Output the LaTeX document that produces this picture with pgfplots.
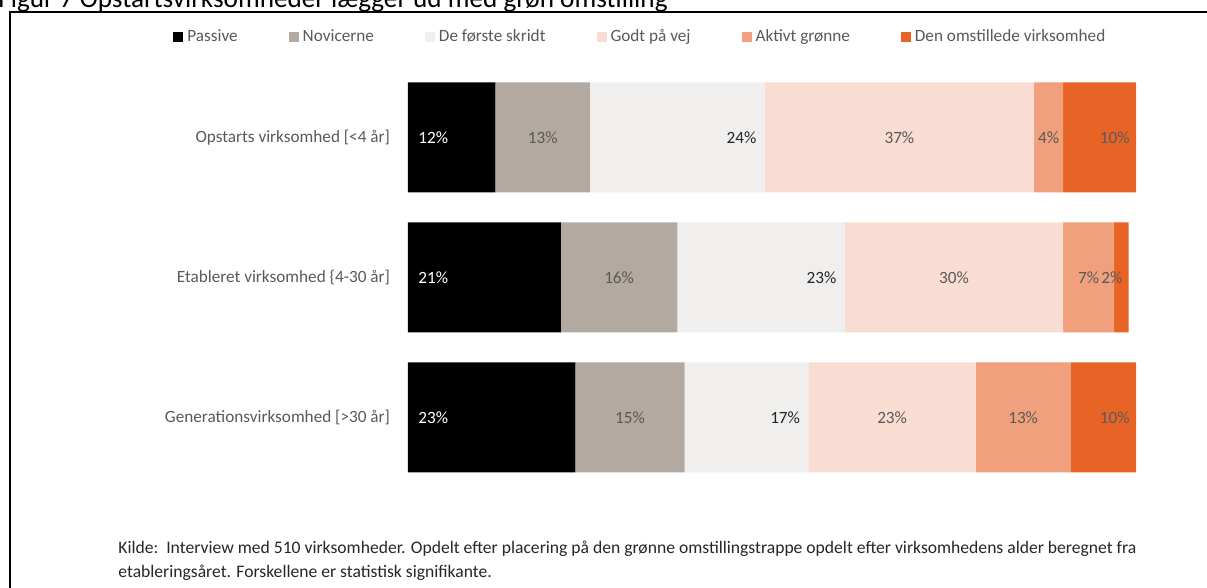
\documentclass[border=0pt]{standalone}
\usepackage{pgfplots}
\pgfplotsset{compat=1.18}
\usepackage{pgfplotstable}
\usepackage{fontspec}
\setmainfont{Carlito}

\definecolor{cPas}{HTML}{000000}
\definecolor{cNov}{HTML}{B3A9A0}
\definecolor{cFor}{HTML}{F0EFEE}
\definecolor{cGod}{HTML}{F9DDD2}
\definecolor{cAkt}{HTML}{F0A07C}
\definecolor{cOms}{HTML}{E86426}
\definecolor{txtgray}{HTML}{595959}
\definecolor{txtdark}{HTML}{262626}

% Shares (percent) per step on the green transition ladder; y = row (2 = top)
\pgfplotstableread{
y pas nov forste godt aktivt omst
2 12  13  24     37   4      10
1 21  16  23     30   7      2
0 23  15  17     23   13     10
}\shares

\newcommand{\chartfont}{\fontsize{8.6}{10}\selectfont}

\pgfplotsset{
  sqlegend/.style={legend image code/.code={\fill[##1] (0pt,-2.5pt) rectangle (5pt,2.5pt);}},
  common geometry/.style={
    at={(204pt,-243.75pt)}, anchor=south west,
    scale only axis, width=364pt, height=210pt,
    xmin=0, xmax=100, ymin=-0.5, ymax=2.5,
  },
}

\begin{document}
\begin{tikzpicture}
\useasboundingbox (0pt,0pt) rectangle (603.5pt,-294pt);

% frame around the figure
\draw[line width=1pt] (4.75pt,-300pt) -- (4.75pt,-6pt) -- (620pt,-6pt);

% figure title
\node[anchor=base west, inner sep=0pt, font=\fontsize{13.6}{15}\selectfont]
  at (-1pt,-4pt) {Figur 7 Opstartsvirksomheder lægger ud med grøn omstilling};

% stacked bars
\begin{axis}[
  common geometry,
  xbar stacked, bar width=55pt,
  axis line style={draw=none}, tick style={draw=none}, major tick length=0pt,
  xtick=\empty,
  ytick={0,1,2},
  yticklabels={{Generationsvirksomhed [>30 år]},{Etableret virksomhed \{4-30 år]},{Opstarts virksomhed [<4 år]}},
  yticklabel style={font=\chartfont, text=txtgray, xshift=-5.5pt},
  legend columns=6,
  legend cell align=left,
  legend style={at={(-0.3228,1.073)}, anchor=west, draw=none, fill=none,
    inner sep=0pt, font=\chartfont, text=txtgray,
    nodes={inner xsep=2pt},
    /tikz/every even column/.append style={column sep=23.5pt}},
]
\addplot[fill=cPas, draw=none, sqlegend] table[x=pas, y=y]{\shares};
\addlegendentry{Passive}
\addplot[fill=cNov, draw=none, sqlegend] table[x=nov, y=y]{\shares};
\addlegendentry{Novicerne}
\addplot[fill=cFor, draw=none, sqlegend] table[x=forste, y=y]{\shares};
\addlegendentry{De første skridt}
\addplot[fill=cGod, draw=none, sqlegend] table[x=godt, y=y]{\shares};
\addlegendentry{Godt på vej}
\addplot[fill=cAkt, draw=none, sqlegend] table[x=aktivt, y=y]{\shares};
\addlegendentry{Aktivt grønne}
\addplot[fill=cOms, draw=none, sqlegend] table[x=omst, y=y]{\shares};
\addlegendentry{Den omstillede virksomhed}
\end{axis}

% value labels inside the segments
\begin{axis}[
  common geometry,
  hide axis, clip=false,
  /pgf/number format/assume math mode=true,
  point meta=explicit,
  nodes near coords={\pgfmathprintnumber{\pgfplotspointmeta}\%},
  nodes near coords style={font=\chartfont, inner sep=0pt},
]
\addplot[draw=none, mark=none, nodes near coords style={anchor=west, xshift=5pt, text=white}]
  table[x expr=0, y=y, meta=pas]{\shares};
\addplot[draw=none, mark=none, nodes near coords style={anchor=center, text=txtgray}]
  table[x expr=\thisrow{pas}+\thisrow{nov}/2, y=y, meta=nov]{\shares};
\addplot[draw=none, mark=none, nodes near coords style={anchor=east, xshift=-4pt, text=txtdark}]
  table[x expr=\thisrow{pas}+\thisrow{nov}+\thisrow{forste}, y=y, meta=forste]{\shares};
\addplot[draw=none, mark=none, nodes near coords style={anchor=center, text=txtgray}]
  table[x expr=\thisrow{pas}+\thisrow{nov}+\thisrow{forste}+\thisrow{godt}/2, y=y, meta=godt]{\shares};
\addplot[draw=none, mark=none, nodes near coords style={anchor=center, text=txtgray}]
  table[x expr=\thisrow{pas}+\thisrow{nov}+\thisrow{forste}+\thisrow{godt}+\thisrow{aktivt}/2, y=y, meta=aktivt]{\shares};
\addplot[draw=none, mark=none, nodes near coords style={anchor=east, xshift=-3pt, text=txtgray}]
  table[x expr={min(\thisrow{pas}+\thisrow{nov}+\thisrow{forste}+\thisrow{godt}+\thisrow{aktivt}+\thisrow{omst},100)}, y=y, meta=omst]{\shares};
\end{axis}

% source note
\node[anchor=west, inner sep=0pt, font=\fontsize{8.8}{10}\selectfont, text=txtdark] at (59pt,-274.5pt)
  {Kilde:\ \ Interview med 510 virksomheder. Opdelt efter placering på den grønne omstillingstrappe opdelt efter virksomhedens alder beregnet fra};
\node[anchor=west, inner sep=0pt, font=\fontsize{8.8}{10}\selectfont, text=txtdark] at (59pt,-286.5pt)
  {etableringsåret. Forskellene er statistisk signifikante.};
\end{tikzpicture}
\end{document}
